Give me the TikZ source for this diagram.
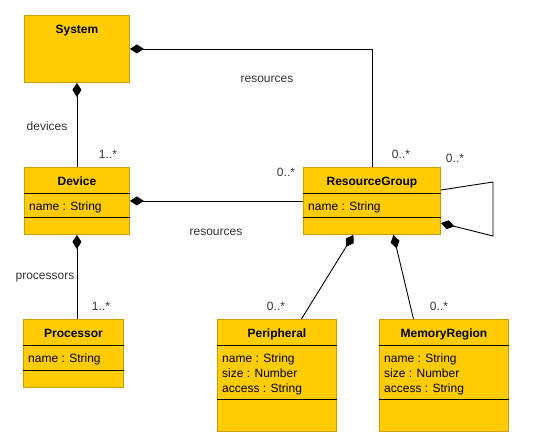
\documentclass[tikz,border=0pt]{standalone}
\usepackage{fontspec}
\setmainfont{Liberation Sans}
\usetikzlibrary{arrows.meta}
\definecolor{umlfill}{HTML}{FFCC00}
\definecolor{umledge}{HTML}{C8A000}
\tikzset{
  cls/.style={draw=umledge, fill=umlfill, anchor=north west, inner sep=0pt, line width=0.9pt},
  ctitle/.style={anchor=base, font=\fontsize{12}{15}\selectfont\bfseries, inner sep=0pt},
  cattr/.style={anchor=base west, inner sep=0pt},
  lbl/.style={text=black!80, inner sep=0pt},
  sep/.style={line width=0.9pt},
  comp/.style={{Diamond[length=14pt,width=9pt]}-, line width=0.9pt},
}
\begin{document}
\begin{tikzpicture}[x=1pt,y=-1pt,font=\fontsize{12}{15}\selectfont]
  \useasboundingbox (0,0) rectangle (550,447);
  % classes
  \foreach \n/\x/\y/\w/\h/\t in {system/24/15/105/67/System, device/24/167/105/67/Device,
    rg/303/167/137/67/ResourceGroup, proc/23/319/100/68/Processor,
    peri/217/319/119/112/Peripheral, mem/379/319/129/112/MemoryRegion}
  {
    \node[cls, minimum width=\w pt, minimum height=\h pt] (\n) at (\x,\y) {};
    \node[ctitle] (\n-title) at ([yshift=-18.5pt]\n.north) {\t};
  }
  \foreach \n/\a in {device/50, rg/50, proc/51, peri/80, mem/80}
  {
    \draw[sep] ([yshift=-26pt]\n.north west) -- ([yshift=-26pt]\n.north east);
    \draw[sep] ([yshift=-\a pt]\n.north west) -- ([yshift=-\a pt]\n.north east);
  }
  % attributes
  \foreach \n in {device, rg, proc}
    \node[cattr] (\n-a1) at ([xshift=5pt,yshift=-43pt]\n.north west) {name : String};
  \foreach \n in {peri, mem}
    \foreach \t [count=\i] in {name : String, size : Number, access : String}
      \node[cattr] (\n-a\i) at ([xshift=5pt,yshift=-28pt-15pt*\i]\n.north west) {\t};
  % associations
  \draw[comp] (system.east) -| (rg.north);
  \draw[comp] (system.south) -- (device.north);
  \draw[comp] (device.east) -- (rg.west);
  \draw[comp] (device.south) -- (device.south |- proc.north);
  \coordinate (selfA) at (493,182);
  \coordinate (selfB) at (493,236);
  \draw[comp] (rg.east |- 0,223) -- (selfB) -- (selfA) -- (rg.east |- 0,190);
  \draw[comp] ([xshift=-18.5pt]rg.south) -- ([xshift=24.5pt]peri.north);
  \draw[comp] ([xshift=21.5pt]rg.south) -- ([xshift=-30.5pt]mem.north);
  % labels
  \node[lbl] (res-top) at (267,79) {resources};
  \node[lbl] (res-mid) at (216,232) {resources};
  \node[lbl] (devices) at (47,126) {devices};
  \node[lbl] (processors) at (45,278) {processors};
  \node[lbl] (m-dev) at (108,154) {1..*};
  \node[lbl] (m-proc) at (101,306) {1..*};
  \node[lbl] (m-rgtop) at (401,154) {0..*};
  \node[lbl] (m-rgleft) at (286,172) {0..*};
  \node[lbl] (m-self) at (455,158) {0..*};
  \node[lbl] (m-peri) at (276,306) {0..*};
  \node[lbl] (m-mem) at (439,306) {0..*};
\end{tikzpicture}
\end{document}
